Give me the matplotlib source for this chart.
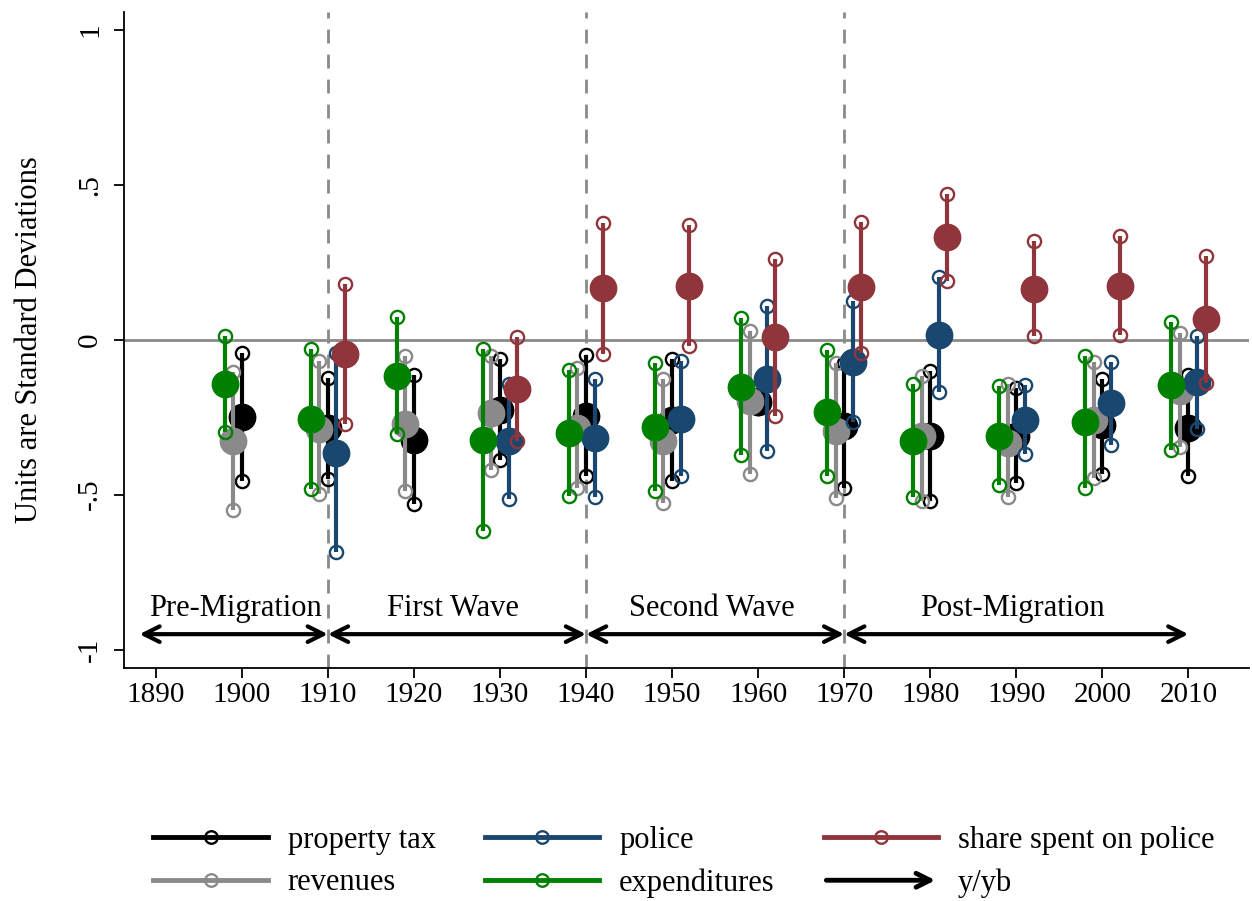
import matplotlib
matplotlib.use("Agg")
import matplotlib.pyplot as plt
from matplotlib.lines import Line2D
from matplotlib.patches import FancyArrowPatch
from matplotlib.legend_handler import HandlerPatch

plt.rcParams['font.family'] = ['Liberation Serif', 'DejaVu Serif']

# decades for property tax / revenues / expenditures
years = [1900, 1910, 1920, 1930, 1940, 1950, 1960, 1970, 1980, 1990, 2000, 2010]
# police and share start in 1910, and 1920 is missing
years_pol = [1910, 1930, 1940, 1950, 1960, 1970, 1980, 1990, 2000, 2010]

prop_est = [-0.250, -0.285, -0.323, -0.226, -0.245, -0.258, -0.200, -0.280, -0.310, -0.310, -0.274, -0.285]
prop_lo = [-0.457, -0.449, -0.529, -0.387, -0.439, -0.457, -0.220, -0.478, -0.519, -0.462, -0.432, -0.441]
prop_hi = [-0.043, -0.124, -0.113, -0.062, -0.048, -0.062, -0.180, -0.075, -0.100, -0.156, -0.127, -0.113]

rev_est = [-0.328, -0.288, -0.271, -0.237, -0.285, -0.328, -0.199, -0.296, -0.312, -0.333, -0.258, -0.164]
rev_lo = [-0.551, -0.498, -0.487, -0.422, -0.478, -0.527, -0.432, -0.511, -0.522, -0.509, -0.446, -0.347]
rev_hi = [-0.104, -0.070, -0.054, -0.054, -0.091, -0.126, 0.029, -0.075, -0.118, -0.143, -0.073, 0.022]

exp_est = [-0.143, -0.255, -0.118, -0.325, -0.301, -0.283, -0.154, -0.234, -0.328, -0.310, -0.267, -0.147]
exp_lo = [-0.298, -0.482, -0.304, -0.618, -0.503, -0.489, -0.373, -0.439, -0.509, -0.468, -0.478, -0.355]
exp_hi = [0.011, -0.030, 0.072, -0.030, -0.097, -0.075, 0.070, -0.032, -0.143, -0.151, -0.052, 0.057]

pol_est = [-0.366, -0.328, -0.317, -0.255, -0.126, -0.072, 0.014, -0.258, -0.204, -0.138]
pol_lo = [-0.686, -0.513, -0.509, -0.439, -0.360, -0.266, -0.170, -0.369, -0.339, -0.287]
pol_hi = [-0.043, -0.143, -0.126, -0.068, 0.108, 0.124, 0.202, -0.145, -0.073, 0.011]

share_est = [-0.046, -0.158, 0.167, 0.174, 0.008, 0.169, 0.330, 0.165, 0.174, 0.067]
share_lo = [-0.271, -0.326, -0.046, -0.022, -0.245, -0.043, 0.188, 0.011, 0.016, -0.140]
share_hi = [0.180, 0.009, 0.376, 0.371, 0.260, 0.379, 0.471, 0.319, 0.335, 0.271]

periods = ["Pre-Migration", "First Wave", "Second Wave", "Post-Migration"]
period_bounds = [1888.1, 1910, 1940, 1970, 2010]
period_label_x = [1899.2, 1924.5, 1954.6, 1989.6]

xticks = list(range(1890, 2011, 10))
yticks = [1, 0.5, 0, -0.5, -1]
ytick_labels = ["1", ".5", "0", "-.5", "-1"]

black = '#000000'
gray = '#8a8a8a'
green = '#008000'
navy = '#1a476f'
maroon = '#90353b'

fig = plt.figure(figsize=(12.52, 9.01), dpi=100)
ax = fig.add_axes([0.099, 0.259, 0.899, 0.728])

ax.axhline(0, color='#8a8a8a', lw=2, zorder=0)
for b in period_bounds[1:-1]:
    ax.axvline(b, color='#8a8a8a', lw=2, ls=(0, (5, 4)), zorder=0)

def draw(xs, est, lo, hi, off, color):
    for x, e, l, h in zip(xs, est, lo, hi):
        xx = x + off
        ax.plot([xx, xx], [l, h], color=color, lw=3, solid_capstyle='butt')
        ax.plot([xx, xx], [l, h], ls='none', marker='o', ms=9.5, mfc='none', mec=color, mew=1.7)
        ax.plot([xx], [e], marker='o', ms=19, color=color, mec=color)

draw(years, prop_est, prop_lo, prop_hi, 0, black)
draw(years, rev_est, rev_lo, rev_hi, -1, gray)
draw(years_pol, pol_est, pol_lo, pol_hi, 1, navy)
draw(years, exp_est, exp_lo, exp_hi, -2, green)
draw(years_pol, share_est, share_lo, share_hi, 2, maroon)

# period arrows
for a, b in zip(period_bounds[:-1], period_bounds[1:]):
    ax.annotate('', xy=(b, -0.95), xytext=(a, -0.95),
                arrowprops=dict(arrowstyle='<->', lw=3, color='black',
                                mutation_scale=28, shrinkA=0, shrinkB=0))
for name, x in zip(periods, period_label_x):
    ax.text(x, -0.868, name, ha='center', va='center', fontsize=22)

ax.set_xlim(1886.3, 2017.1)
ax.set_ylim(-1.058, 1.058)
ax.set_xticks(xticks)
ax.set_xticklabels([str(t) for t in xticks], fontsize=21)
ax.set_yticks(yticks)
ax.set_yticklabels(ytick_labels, fontsize=21, rotation=90, va='center')
ax.set_ylabel('Units are Standard Deviations', fontsize=22, labelpad=24)
ax.tick_params(axis='both', length=7, width=1.3, direction='out', pad=3)
ax.tick_params(axis='y', pad=8)
for s in ['top', 'right']:
    ax.spines[s].set_visible(False)
for s in ['left', 'bottom']:
    ax.spines[s].set_linewidth(1.3)

def make_arrow(legend, orig_handle, xdescent, ydescent, width, height, fontsize):
    return FancyArrowPatch((-xdescent, height / 2 - ydescent), (width - xdescent, height / 2 - ydescent),
                           arrowstyle='->', mutation_scale=25)

def lh(c):
    return Line2D([], [], color=c, lw=3.5, marker='o', ms=9, mfc='none', mec=c, mew=1.7)

arrow_handle = FancyArrowPatch((0, 0), (1, 0), lw=3.5, color='black')
handles = [lh(black), lh(gray), lh(navy), lh(green), lh(maroon), arrow_handle]
labels = ['property tax', 'revenues', 'police', 'expenditures', 'share spent on police', 'y/yb']
fig.legend(handles, labels, ncol=3, loc='lower left', bbox_to_anchor=(0.12, 0.0),
           frameon=False, fontsize=22, handlelength=3.75, handletextpad=0.65,
           columnspacing=1.6, labelspacing=0.45, borderaxespad=0, borderpad=0.1,
           handler_map={arrow_handle: HandlerPatch(patch_func=make_arrow)})

fig.savefig('out.png', dpi=100)
